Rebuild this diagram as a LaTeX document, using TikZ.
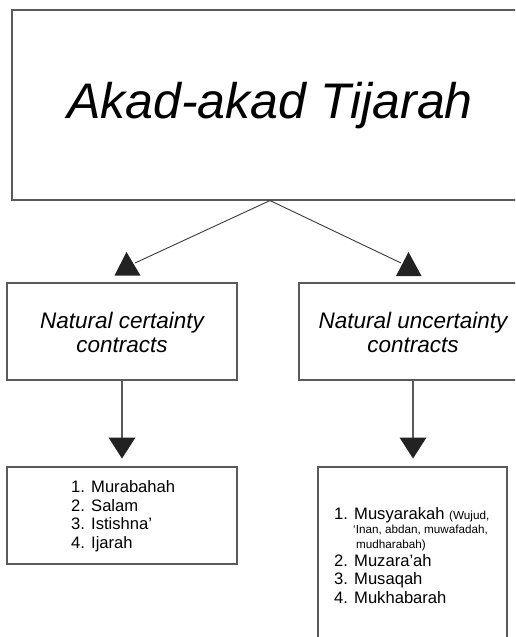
\documentclass[tikz,border=0pt]{standalone}
\usepackage{fontspec}
\setmainfont{Liberation Sans}
\definecolor{boxgray}{HTML}{5A5A5A}
\definecolor{linegray}{HTML}{3A3A3A}
\definecolor{trigray}{HTML}{222222}
\begin{document}
\begin{tikzpicture}[x=1pt,y=-1pt,
  box/.style={draw=boxgray, line width=1.1pt, inner sep=0pt, rectangle},
  conn/.style={draw=linegray, line width=0.9pt},
  tri/.style={fill=trigray},
  ttl/.style={anchor=base, inner sep=0pt, font=\fontsize{50}{60}\selectfont\itshape},
  mid/.style={anchor=base, inner sep=0pt, font=\fontsize{22.5}{27}\selectfont\itshape},
  lst/.style={anchor=base west, inner sep=0pt, font=\fontsize{16.6}{19}\selectfont},
  sml/.style={anchor=base west, inner sep=0pt, font=\fontsize{11.7}{14}\selectfont}]
\path[use as bounding box] (0,0) rectangle (515,637);
\clip (0,0) rectangle (515,637);

% top box
\node[box, minimum width=516pt, minimum height=190pt] (top) at (270,105) {};
\node[ttl] (title) at (270,118.3) {Akad-akad Tijarah};

% middle boxes
\node[box, minimum width=230pt, minimum height=97pt] (cert) at (122,331.5) {};
\node[mid] (cert1) at (122,328) {Natural certainty};
\node[mid] (cert2) at (122,352.7) {contracts};

\node[box, minimum width=228pt, minimum height=97pt] (unc) at (413,331.5) {};
\node[mid] (unc1) at (413,328) {Natural uncertainty};
\node[mid] (unc2) at (413,352.7) {contracts};

% bottom boxes
\node[box, minimum width=230pt, minimum height=97pt] (lista) at (122,515.5) {};
\node[lst] (a1) at (71,492.3) {1. Murabahah};
\node[lst] (a2) at (71,511) {2. Salam};
\node[lst] (a3) at (71,529.8) {3. Istishna’};
\node[lst] (a4) at (71,548.5) {4. Ijarah};

\node[box, minimum width=189pt, minimum height=193pt] (listb) at (412.5,563.5) {};
\node[lst] (b1) at (334,519) {1. Musyarakah {\fontsize{11.7}{14}\selectfont (Wujud,}};
\node[sml] (b1a) at (353,533.5) {‘Inan, abdan, muwafadah,};
\node[sml] (b1b) at (356,548) {mudharabah)};
\node[lst] (b2) at (334,566) {2. Muzara’ah};
\node[lst] (b3) at (334,584.7) {3. Musaqah};
\node[lst] (b4) at (334,603.4) {4. Mukhabarah};

% connectors from top box
\coordinate (la) at (135,263);
\coordinate (ra) at (401,263);
\coordinate (lt) at (126.5,252);
\coordinate (rt) at (408.5,252);
\draw[conn] (top.south) -- (la);
\draw[conn] (top.south) -- (ra);
\fill[tri] (lt) -- ++(-12,23.5) -- ++(26,0) -- cycle;
\fill[tri] (rt) -- ++(-12.5,24) -- ++(25.5,0) -- cycle;

% vertical connectors
\coordinate (lv) at (122,437.5);
\coordinate (rv) at (413,437.5);
\draw[conn, draw=boxgray, line width=1.1pt] (cert.south) -- (lv);
\draw[conn, draw=boxgray, line width=1.1pt] (unc.south) -- (rv);
\fill[tri] (lv) ++(-13.5,0) -- ++(27,0) -- ++(-13.5,21) -- cycle;
\fill[tri] (rv) ++(-13.5,0) -- ++(27,0) -- ++(-13.5,21) -- cycle;
\end{tikzpicture}
\end{document}
